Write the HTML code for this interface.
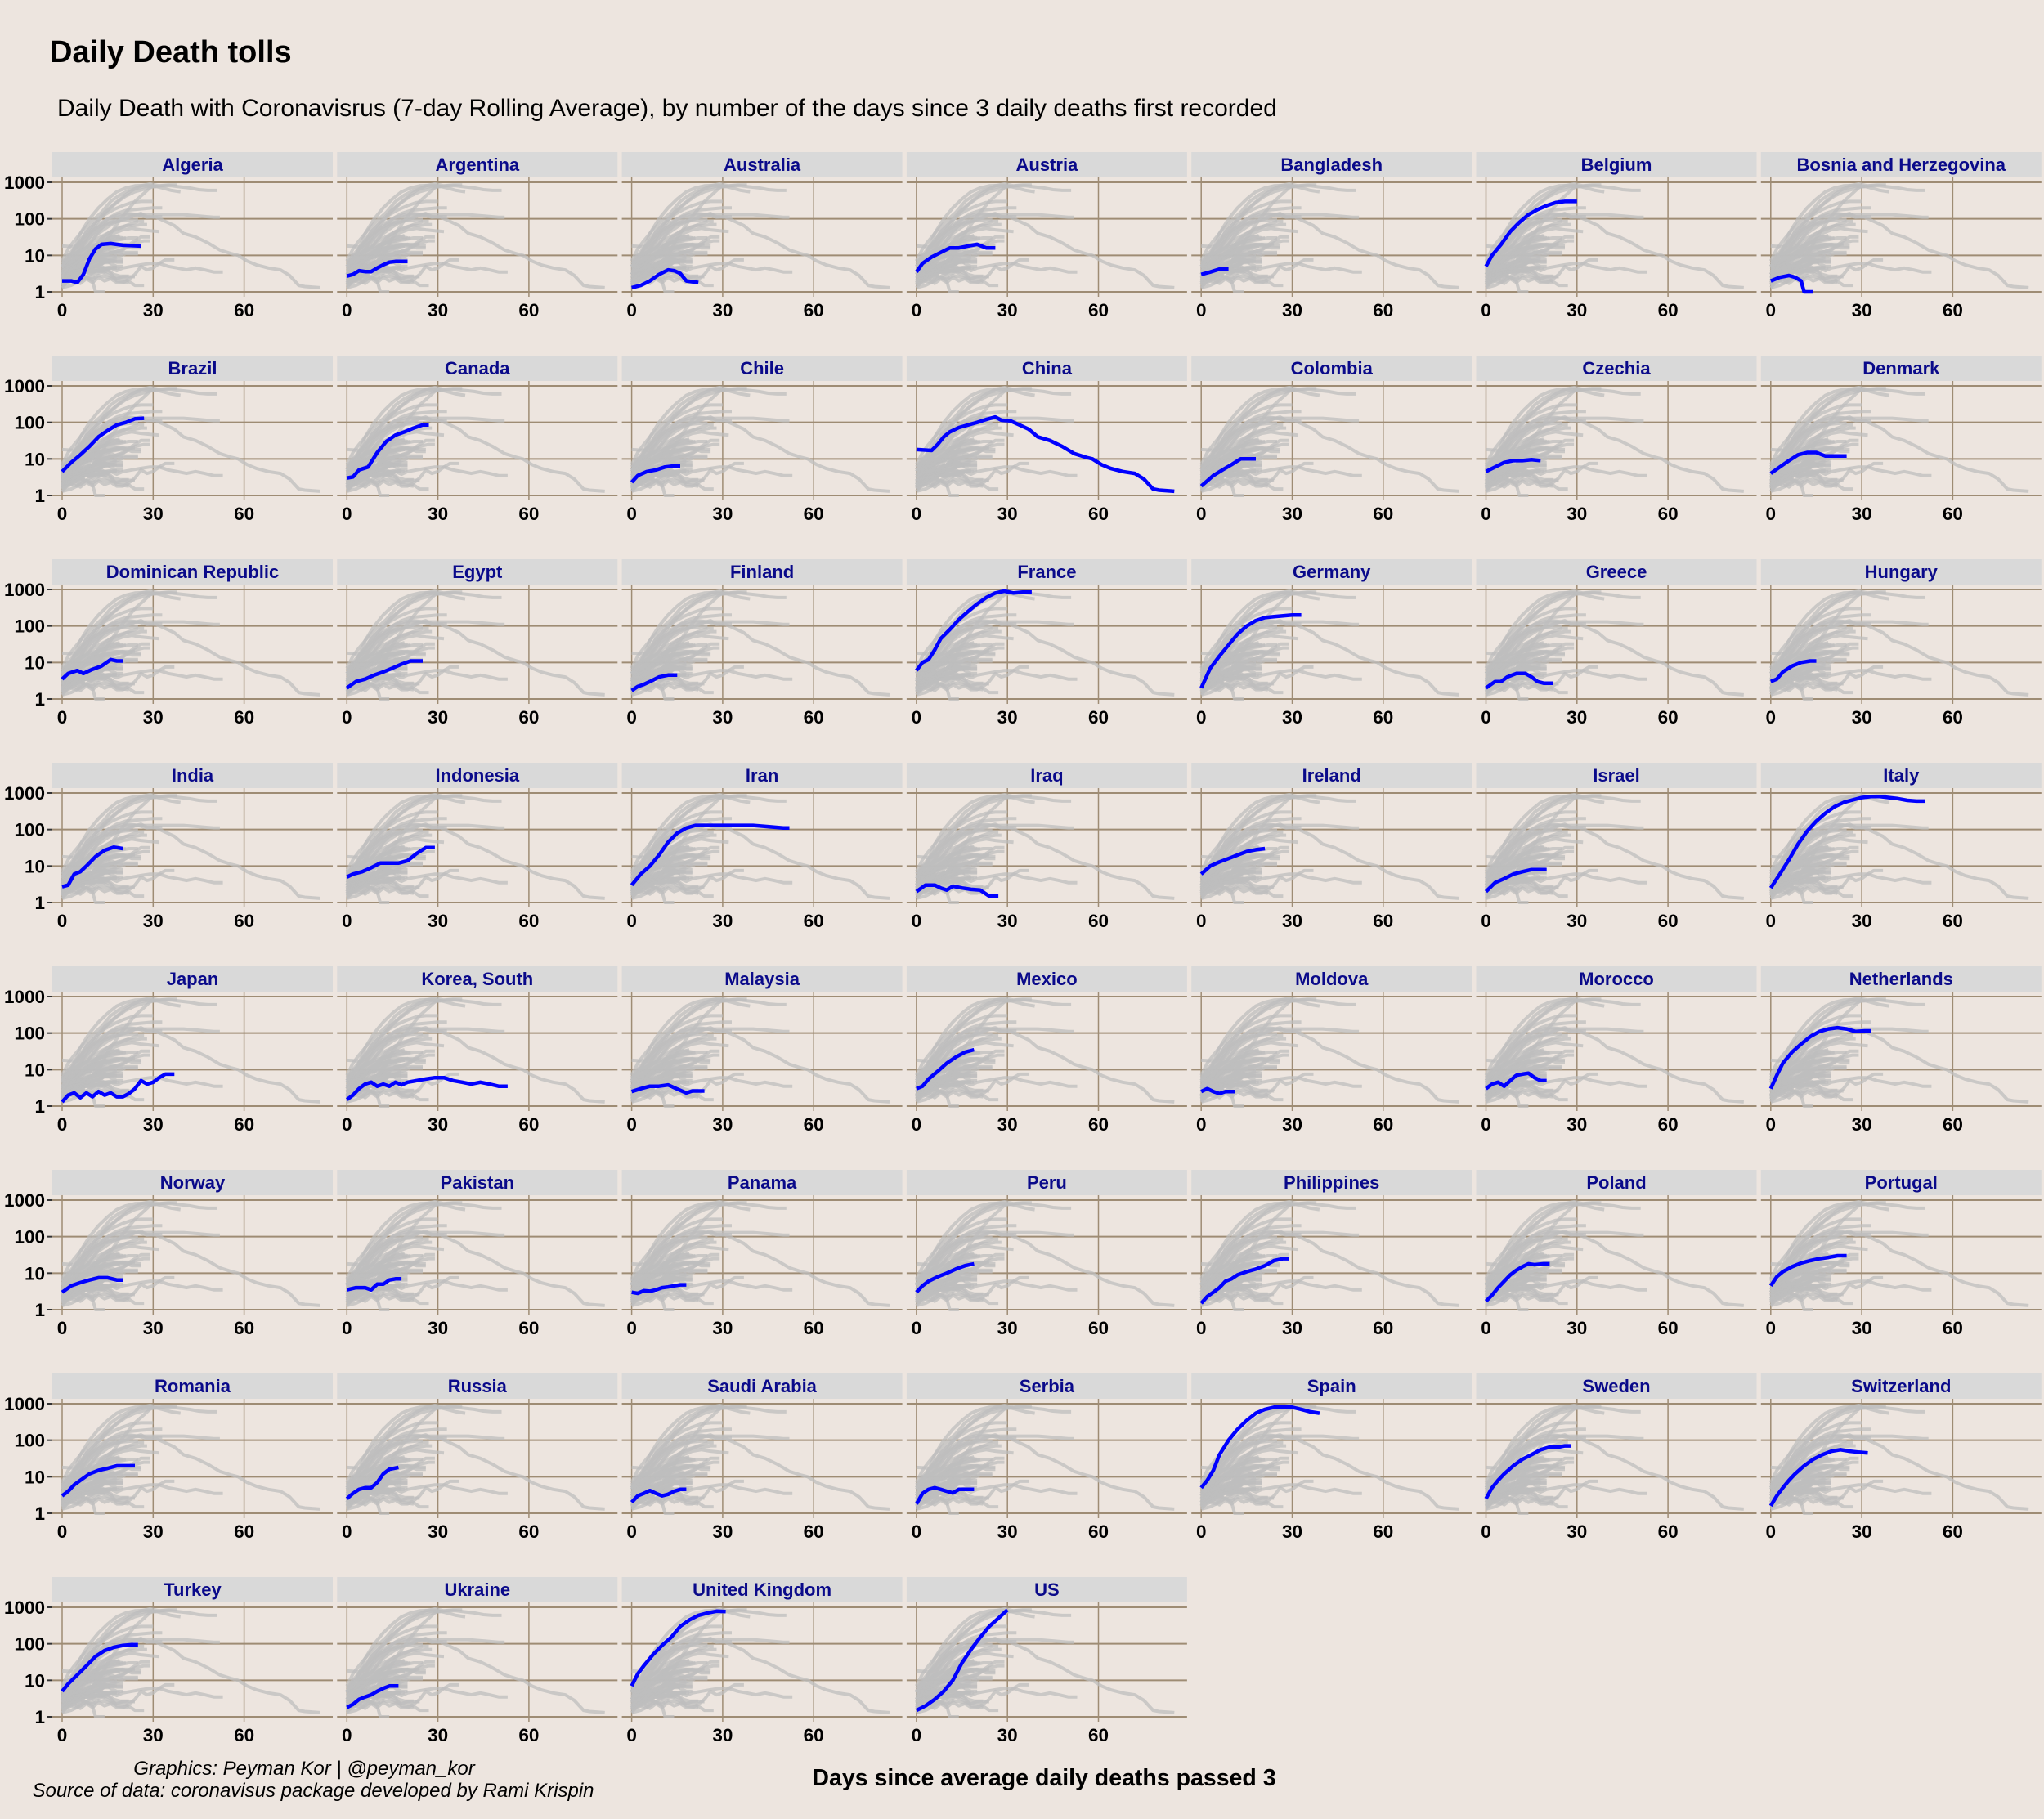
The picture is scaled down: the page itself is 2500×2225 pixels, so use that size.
<!DOCTYPE html>
<html><head><meta charset="utf-8">
<style>
html,body{margin:0;padding:0;background:#ede5df;}
svg{display:block;font-family:"Liberation Sans",sans-serif;}
</style></head>
<body>
<svg id="chart" width="2500" height="2225" viewBox="0 0 2500 2225">
<rect width="2500" height="2225" fill="#ede5df"/>
<text x="61" y="76" font-size="38" font-weight="bold" fill="#000">Daily Death tolls</text>
<text x="70" y="142" font-size="30" fill="#000">Daily Death with Coronavisrus (7-day Rolling Average), by number of the days since 3 daily deaths first recorded</text>
<text x="372" y="2171" font-size="24" font-style="italic" text-anchor="middle" fill="#000">Graphics: Peyman Kor | @peyman_kor</text>
<text x="383" y="2198" font-size="24" font-style="italic" text-anchor="middle" fill="#000">Source of data: coronavisus package developed by Rami Krispin</text>
<text x="1277" y="2184" font-size="28.5" font-weight="bold" text-anchor="middle" fill="#000">Days since average daily deaths passed 3</text>
<g id="panels"></g>
</svg>
<script>
const countries = ["Algeria","Argentina","Australia","Austria","Bangladesh","Belgium","Bosnia and Herzegovina","Brazil","Canada","Chile","China","Colombia","Czechia","Denmark","Dominican Republic","Egypt","Finland","France","Germany","Greece","Hungary","India","Indonesia","Iran","Iraq","Ireland","Israel","Italy","Japan","Korea, South","Malaysia","Mexico","Moldova","Morocco","Netherlands","Norway","Pakistan","Panama","Peru","Philippines","Poland","Portugal","Romania","Russia","Saudi Arabia","Serbia","Spain","Sweden","Switzerland","Turkey","Ukraine","United Kingdom","US"];
// each series: flat list of day,value pairs
const series = [
[0,2,3,2,5,1.8,7,3,9,8,11,15,13,20,16,21,20,19,26,18],
[0,2.7,2,3,4,3.8,6,3.6,8,3.6,10,4.5,12,5.5,14,6.5,16,6.8,20,6.8],
[0,1.3,3,1.5,6,2,9,3,12,4,14,3.8,16,3.2,18,2,22,1.8],
[0,3.5,2,6,5,9,8,12,11,16,14,16,17,18,20,20,23,16,26,16],
[0,3,3,3.5,6,4.2,9,4.2],
[0,5,2,10,5,20,8,45,11,80,14,130,17,180,20,230,23,280,26,300,30,300],
[0,2,3,2.5,6,2.8,8,2.5,10,2,11,1,14,1],
[0,4.5,3,8,6,13,9,22,12,40,15,60,18,85,21,100,24,125,27,130],
[0,3,2,3.2,4,5,7,6,10,15,13,30,16,45,19,55,22,70,25,85,27,85],
[0,2.3,2,3.5,5,4.5,8,5,11,6,13,6.3,16,6.3],
[0,18,5,17,7,25,9,40,11,55,14,72,17,85,20,100,23,120,26,140,28,115,31,110,34,85,37,65,40,40,44,32,48,22,52,14,56,11,58,10,61,7,64,5.5,68,4.5,72,4,75,2.8,78,1.5,80,1.4,85,1.3],
[0,1.8,2,2.5,4,3.5,7,5,10,7,13,10,16,10,18,10],
[0,4.5,3,6,6,8,9,9,12,9,15,9.5,18,9],
[0,4,3,6,6,9,9,13,12,15,15,15,18,12,21,12,25,12],
[0,3.5,2,5,5,6,7,5,10,6.5,13,8,16,12,18,11,20,11],
[0,2,3,3,6,3.5,9,4.5,12,5.5,15,7,18,9,21,11,25,11],
[0,1.7,2,2.2,4,2.5,6,3,9,4,12,4.5,15,4.5],
[0,6,2,10,4,12,6,22,8,45,11,80,14,150,17,250,20,400,23,600,26,800,29,900,32,800,35,850,38,850],
[0,2,3,7,6,15,9,30,12,60,15,100,18,140,21,170,24,180,27,190,30,200,33,200],
[0,2,3,3,5,3,7,4,10,5,13,5,15,4,17,3,19,2.7,22,2.7],
[0,3,2,3.5,4,5.5,7,8,10,10,13,11,15,11],
[0,2.7,2,3,4,6,6,7,8,10,11,18,14,27,17,33,20,30],
[0,5,2,6,5,7,8,9,11,12,14,12,17,12,20,14,23,22,26,32,29,32],
[0,3,3,6,6,10,9,20,12,45,15,80,18,110,21,130,25,130,30,130,35,130,40,130,45,120,50,110,52,110],
[0,2,3,3,6,3,8,2.5,10,2.2,12,2.8,15,2.5,18,2.3,21,2.2,24,1.5,27,1.5],
[0,6,3,10,6,13,9,16,12,20,15,25,18,28,21,30],
[0,2,3,3.5,6,4.5,9,6,12,7,15,8,18,8,20,8],
[0,2.5,3,6,6,15,9,40,12,90,15,170,18,280,21,420,24,550,27,650,30,750,33,800,36,800,39,750,42,700,45,630,48,600,51,600],
[0,1.3,2,2,4,2.3,6,1.7,8,2.3,10,1.8,12,2.5,14,2,16,2.3,18,1.8,20,1.8,22,2.2,24,3,26,5,28,4,30,4.5,32,6,34,7.5,37,7.5],
[0,1.5,2,2,4,3,6,4,8,4.5,10,3.5,12,4,14,3.5,16,4.5,18,3.8,20,4.5,23,5,26,5.5,29,6,32,6,35,5,38,4.5,41,4,44,4.5,47,4,50,3.5,53,3.5],
[0,2.5,3,3,6,3.5,9,3.5,12,3.8,14,3.2,16,2.7,18,2.3,20,2.6,24,2.6],
[0,3,2,3.5,4,5.5,7,9,10,15,13,22,16,30,19,35],
[0,2.5,2,3,4,2.5,6,2.2,8,2.5,11,2.5],
[0,3,2,4,4,4.5,6,3.5,8,5,10,7,12,7.5,14,8,16,6,18,5,20,5],
[0,3,2,7,4,15,7,30,10,50,13,80,16,110,19,130,22,140,25,130,28,110,31,115,33,115],
[0,3,3,4.5,6,5.5,9,6.5,12,7.5,15,7.5,18,6.5,20,6.5],
[0,3.5,3,4,6,4,8,3.5,10,5,12,5,14,6.5,16,7,18,7],
[0,3,2,2.8,4,3.3,6,3.2,8,3.5,10,4,12,4.2,14,4.5,16,4.8,18,4.8],
[0,3,2,4.5,4,6,7,8,10,10,13,13,16,16,19,18],
[0,1.5,2,2.3,4,3,6,4,8,6,10,7,12,9,15,11,18,13,21,16,24,22,27,25,29,25],
[0,1.7,2,2.5,4,4,6,6,8,9,10,12,12,15,14,18,16,17,19,18,21,18],
[0,4.5,2,8,4,11,7,15,10,19,13,22,16,25,19,27,22,30,25,30],
[0,3,2,4,4,6,6,8,9,12,12,15,15,17,18,20,21,20,24,20],
[0,2.5,2,3.5,4,4.5,6,5,8,5,10,7,12,12,14,16,17,18],
[0,2,2,3,4,3.5,6,4.2,8,3.5,10,3,12,3.3,14,4,16,4.5,18,4.5],
[0,1.8,2,3.5,4,4.5,6,5,8,4.5,10,4,12,3.6,14,4.5,16,4.5,19,4.5],
[0,5,2,8,4,15,6,40,9,100,12,200,15,350,18,550,21,700,24,800,27,820,30,800,33,700,36,600,39,550],
[0,2.5,2,5,4,8,6,12,9,20,12,30,15,40,18,55,21,65,24,65,26,70,28,70],
[0,1.6,2,3,4,5,6,8,8,12,11,20,14,30,17,40,20,50,23,55,26,50,29,47,32,45],
[0,5,2,8,5,14,8,25,11,45,14,65,17,80,20,90,23,95,25,95],
[0,1.8,2,2.2,4,3,6,3.5,8,4,10,5,12,6,14,7,17,7],
[0,7,2,15,4,25,7,50,10,90,13,150,16,300,19,450,22,600,25,700,28,780,31,760],
[0,1.5,3,2,6,3,9,5,12,10,15,30,18,70,21,150,24,300,27,500,30,850]
];
const yTicks = [1,10,100,1000];
const yTickLabels = ["1","10","100","1000"];
const xTicks = [0,30,60];
const xTickLabels = ["0","30","60"];

const NS = "http://www.w3.org/2000/svg";
const root = document.getElementById("panels");
const COLS = 7, PITCHX = 348.3, PITCHY = 249, LEFT0 = 64, TOP0 = 186, PW = 343, STRIPH = 31, PH = 146;
function mk(tag, attrs, parent){const e=document.createElementNS(NS,tag);for(const k in attrs)e.setAttribute(k,attrs[k]);(parent||root).appendChild(e);return e;}
function xScale(left, d){return left + 12 + d * 3.71;}
function yScale(top, v){return top + 6 + (3 - Math.log10(v)) * 44.67;}
function pathFor(s, left, top){let p="";for(let i=0;i<s.length;i+=2){p+=(i?"L":"M")+xScale(left,s[i]).toFixed(1)+","+yScale(top,s[i+1]).toFixed(1);}return p;}

countries.forEach((name, idx) => {
  const col = idx % COLS, row = Math.floor(idx / COLS);
  const left = LEFT0 + col * PITCHX, stripTop = TOP0 + row * PITCHY, top = stripTop + STRIPH;
  const g = mk("g", {});
  
  
  const strip = mk("rect", {x:left, y:stripTop, width:PW, height:STRIPH, fill:"#d9d9d9"}, g);
  
  
  const st = mk("text", {x:left+PW/2, y:stripTop+23, "text-anchor":"middle", "font-size":"22", "font-weight":"bold", fill:"#0a0a8a"}, g);
  st.textContent = name;
  
  
  yTicks.forEach((t, i) => {
    const y = yScale(top, t);
    const gl = mk("line", {x1:left, x2:left+PW, y1:y, y2:y, stroke:"#9e8c74", "stroke-width":"2"}, g);
    
    
    if (col === 0) {
      const tk = mk("line", {x1:left-7, x2:left, y1:y, y2:y, stroke:"#333", "stroke-width":"2"}, g);
      
      
      const tl = mk("text", {x:left-9, y:y+8, "text-anchor":"end", "font-size":"22.5", "font-weight":"bold", fill:"#000"}, g);
      tl.textContent = yTickLabels[i];
      
      
    }
  });
  xTicks.forEach((t, i) => {
    const x = xScale(left, t);
    const gl = mk("line", {x1:x, x2:x, y1:top, y2:top+PH, stroke:"#9e8c74", "stroke-width":"1.5"}, g);
    
    
    const tl = mk("text", {x:x, y:stripTop+201, "text-anchor":"middle", "font-size":"22.5", "font-weight":"bold", fill:"#000"}, g);
    tl.textContent = xTickLabels[i];
    
    
  });
  series.forEach((s, j) => {
    if (j === idx) return;
    const p = mk("path", {d:pathFor(s,left,top), fill:"none", stroke:"#bdbdbd", "stroke-opacity":"0.75", "stroke-width":"4", "stroke-linejoin":"round"}, g);
    
    
  });
  const hl = mk("path", {d:pathFor(series[idx],left,top), fill:"none", stroke:"#0000ff", "stroke-width":"4.5", "stroke-linejoin":"round"}, g);
  
  
});
</script>
</body></html>
